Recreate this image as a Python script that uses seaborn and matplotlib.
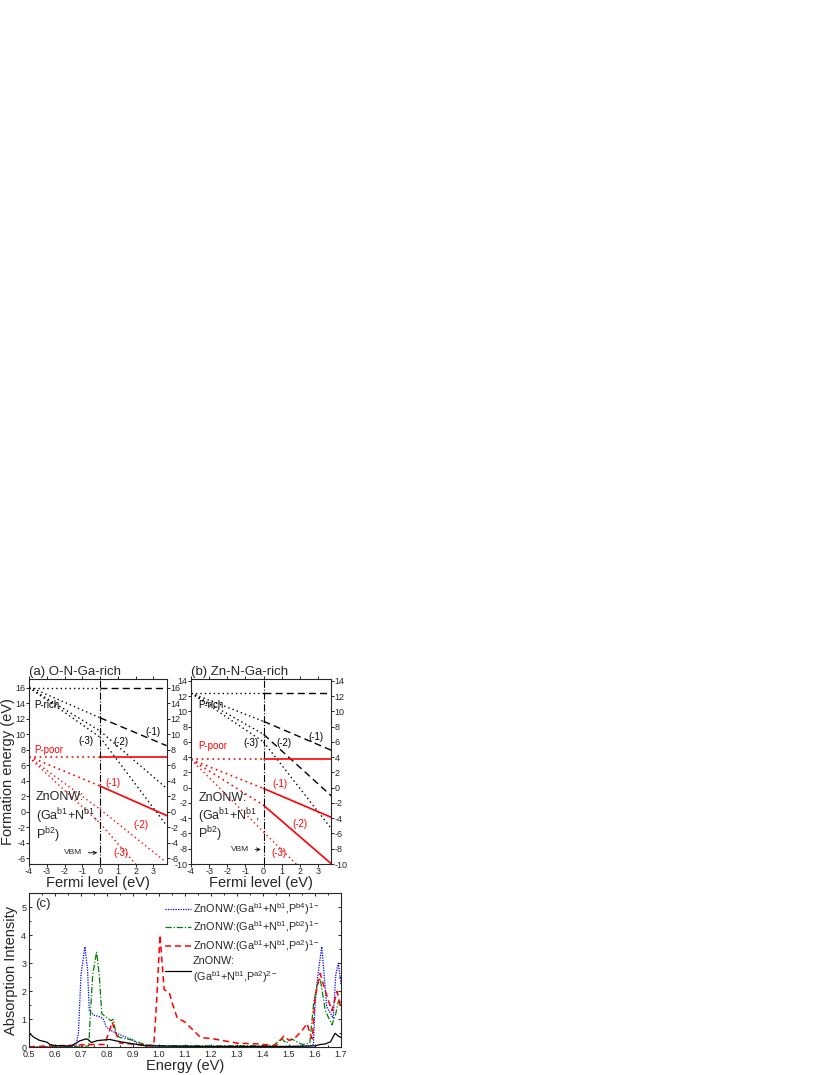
import numpy as np
import pandas as pd
import matplotlib
matplotlib.use("Agg")
import matplotlib.pyplot as plt
import seaborn as sns

sns.set_theme(style="ticks")
plt.rcParams["font.family"] = ["Liberation Sans", "DejaVu Sans"]
plt.rcParams["mathtext.default"] = "regular"
plt.rcParams["axes.unicode_minus"] = False

# ---------------- data: panels (a) and (b) -----------------
EF_NODES = [-4.0, 0.0, 3.75]

# panel (a) O-N-Ga-rich : values at EF_NODES
a_rich_0 = [15.9, 15.9, 15.9]
a_rich_m1 = [16.1, 12.1, 8.5]
a_rich_m2 = [16.0, 10.4, 3.0]
a_rich_m3 = [16.0, 9.6, -1.8]
a_poor_0 = [7.0, 7.0, 7.0]
a_poor_m1 = [7.1, 3.3, -0.5]
a_poor_m2_x = [-4.0, 0.0, 3.6]
a_poor_m2 = [7.0, 0.3, -6.3]
a_poor_m3_x = [-4.0, 0.0, 2.0]
a_poor_m3 = [7.0, -1.5, -6.75]

# panel (b) Zn-N-Ga-rich
b_rich_0 = [12.4, 12.4, 12.4]
b_rich_m1 = [12.4, 8.7, 4.9]
b_rich_m2 = [12.4, 7.0, -1.1]
b_rich_m3 = [12.4, 6.0, -5.4]
b_poor_0 = [3.7, 3.7, 3.7]
b_poor_m1 = [3.7, -0.1, -3.9]
b_poor_m2 = [3.7, -2.3, -10.0]
b_poor_m3_x = [-4.0, 0.0, 1.8]
b_poor_m3 = [3.7, -5.8, -10.0]

# ---------------- data: panel (c) -----------------
E_b4 = [0.5, 0.6, 0.68, 0.69, 0.70, 0.715, 0.725, 0.732, 0.75, 0.773, 0.786, 0.796,
        0.81, 0.85, 0.90, 0.92, 1.0, 1.2, 1.4, 1.5, 1.55, 1.58, 1.594, 1.60, 1.61,
        1.626, 1.635, 1.645, 1.66, 1.67, 1.68, 1.69, 1.7]
I_b4 = [0.02, 0.02, 0.03, 0.5, 2.6, 3.59, 2.8, 1.3, 1.15, 1.09, 1.0, 0.75,
        0.62, 0.45, 0.26, 0.1, 0.05, 0.03, 0.03, 0.03, 0.04, 0.05, 0.1, 1.5, 2.5,
        3.59, 2.6, 1.45, 1.2, 1.04, 2.6, 3.0, 2.25]

E_b2 = [0.5, 0.7, 0.73, 0.735, 0.745, 0.76, 0.77, 0.78, 0.80, 0.815, 0.825, 0.835,
        0.85, 0.9, 0.93, 0.95, 1.0, 1.2, 1.44, 1.47, 1.49, 1.51, 1.55, 1.58, 1.595,
        1.61, 1.62, 1.64, 1.665, 1.68, 1.69, 1.7]
I_b2 = [0.02, 0.02, 0.05, 1.0, 2.6, 3.41, 2.6, 1.2, 1.05, 0.95, 1.0, 0.45,
        0.35, 0.25, 0.15, 0.08, 0.06, 0.05, 0.06, 0.32, 0.15, 0.3, 0.1, 0.15, 1.6,
        2.3, 2.45, 1.3, 0.8, 1.2, 1.65, 1.6]

E_a2 = [0.5, 0.75, 0.79, 0.81, 0.82, 0.83, 0.85, 0.95, 0.98, 0.99, 1.004, 1.012,
        1.02, 1.04, 1.05, 1.07, 1.10, 1.16, 1.21, 1.30, 1.38, 1.45, 1.48, 1.50,
        1.52, 1.55, 1.57, 1.58, 1.59, 1.60, 1.62, 1.64, 1.665, 1.685, 1.7]
I_a2 = [0.02, 0.1, 0.1, 0.6, 0.9, 0.6, 0.15, 0.08, 0.05, 1.5, 4.01, 3.0,
        2.06, 1.95, 1.6, 1.05, 0.9, 0.35, 0.3, 0.15, 0.12, 0.06, 0.4, 0.25,
        0.3, 0.6, 0.85, 0.5, 0.3, 1.8, 2.64, 2.0, 1.3, 2.0, 1.35]

E_a2_2 = [0.5, 0.52, 0.54, 0.57, 0.58, 0.6, 0.65, 0.663, 0.695, 0.72, 0.727, 0.74,
          0.763, 0.81, 0.85, 0.91, 0.95, 1.2, 1.5, 1.6, 1.62, 1.64, 1.66, 1.677,
          1.69, 1.7]
I_a2_2 = [0.5, 0.35, 0.25, 0.18, 0.1, 0.06, 0.05, 0.05, 0.23, 0.3, 0.28, 0.17,
          0.24, 0.28, 0.2, 0.11, 0.05, 0.03, 0.03, 0.05, 0.1, 0.12, 0.2, 0.5,
          0.4, 0.35]

legend_labels = [
    "ZnONW:(Ga$^{b1}$+N$^{b1}$,P$^{b4}$)$^{1-}$",
    "ZnONW:(Ga$^{b1}$+N$^{b1}$,P$^{b2}$)$^{1-}$",
    "ZnONW:(Ga$^{b1}$+N$^{b1}$,P$^{a2}$)$^{1-}$",
    "ZnONW:\n(Ga$^{b1}$+N$^{b1}$,P$^{a2}$)$^{2-}$",
]

RED = "#ff0000"
BLK = "#000000"
DOT = (0, (1, 2.2))
DASH = (0, (5, 3))


def seg(ax, xs, ys, color, ls_left, ls_right, lw=1.0):
    """draw line from node data: left part (x<=0) and right part (x>=0)"""
    df = pd.DataFrame({"x": xs, "y": ys})
    left = df[df.x <= 0]
    right = df[df.x >= 0]
    sns.lineplot(data=left, x="x", y="y", ax=ax, color=color, linestyle=ls_left,
                 lw=lw, sort=False, estimator=None)
    if ls_right is not None and len(right) > 1:
        sns.lineplot(data=right, x="x", y="y", ax=ax, color=color,
                     linestyle=ls_right, lw=lw, sort=False, estimator=None)


fig = plt.figure(figsize=(8.3, 10.75), dpi=100)
W, H = 830.0, 1075.0
ax_a = fig.add_axes([29 / W, 1 - 864 / H, 138 / W, 185 / H])
ax_b = fig.add_axes([191 / W, 1 - 864 / H, 140 / W, 185 / H])
ax_c = fig.add_axes([29 / W, 1 - 1047.3 / H, 312 / W, 154 / H])

TICK_FS = 6.5
LAB_FS = 10.5
ANN_FS = 7

# ---- panel (a)
ax = ax_a
seg(ax, EF_NODES, a_rich_0, BLK, DOT, DASH)
seg(ax, EF_NODES, a_rich_m1, BLK, DOT, DASH)
seg(ax, EF_NODES, a_rich_m2, BLK, DOT, DOT)
seg(ax, EF_NODES, a_rich_m3, BLK, DOT, DOT)
seg(ax, EF_NODES, a_poor_0, RED, DOT, "-", lw=1.2)
seg(ax, EF_NODES, a_poor_m1, RED, DOT, "-", lw=1.2)
seg(ax, a_poor_m2_x, a_poor_m2, RED, DOT, DOT)
seg(ax, a_poor_m3_x, a_poor_m3, RED, DOT, DOT)
ax.set_xlim(-4, 3.77)
ax.set_ylim(-6.75, 17.1)
ax.set_yticks(np.arange(-6, 17, 2))
ax.text(-3.7, 13.8, "P-rich", fontsize=ANN_FS, color=BLK, va="center")
ax.text(-3.7, 7.9, "P-poor", fontsize=ANN_FS, color=RED, va="center")
ax.text(3.0, 10.3, "(-1)", fontsize=ANN_FS, color=BLK, ha="center", va="center")
ax.text(-0.8, 9.1, "(-3)", fontsize=ANN_FS, color=BLK, ha="center", va="center")
ax.text(1.2, 9.0, "(-2)", fontsize=ANN_FS, color=BLK, ha="center", va="center")
ax.text(0.75, 3.75, "(-1)", fontsize=ANN_FS, color=RED, ha="center", va="center")
ax.text(2.3, -1.7, "(-2)", fontsize=ANN_FS, color=RED, ha="center", va="center")
ax.text(1.2, -5.3, "(-3)", fontsize=ANN_FS, color=RED, ha="center", va="center")
ax.text(-3.6, 1.9, "ZnONW:", fontsize=9, va="center")
ax.text(-3.6, -0.6, "(Ga$^{b1}$+N$^{b1}$,", fontsize=9, va="center")
ax.text(-3.6, -3.0, "P$^{b2}$)", fontsize=9, va="center")
ax.annotate("VBM", xy=(0, -5.3), xytext=(-1.0, -5.3), fontsize=6, ha="right",
            va="center", arrowprops=dict(arrowstyle="->", lw=0.6, color=BLK))
ax.set_title("(a) O-N-Ga-rich", loc="left", fontsize=9.5, pad=3)
ax.set_ylabel("Formation energy (eV)", fontsize=LAB_FS, labelpad=0)

# ---- panel (b)
ax = ax_b
seg(ax, EF_NODES, b_rich_0, BLK, DOT, DASH)
seg(ax, EF_NODES, b_rich_m1, BLK, DOT, DASH)
seg(ax, EF_NODES, b_rich_m2, BLK, DOT, DASH)
seg(ax, EF_NODES, b_rich_m3, BLK, DOT, DOT)
seg(ax, EF_NODES, b_poor_0, RED, DOT, "-", lw=1.2)
seg(ax, EF_NODES, b_poor_m1, RED, DOT, "-", lw=1.2)
seg(ax, EF_NODES, b_poor_m2, RED, DOT, "-", lw=1.2)
seg(ax, b_poor_m3_x, b_poor_m3, RED, DOT, DOT)
ax.set_xlim(-4, 3.72)
ax.set_ylim(-10, 14.25)
ax.set_yticks(np.arange(-10, 15, 2))
ax.text(-3.6, 10.8, "P-rich", fontsize=ANN_FS, color=BLK, va="center")
ax.text(-3.6, 5.5, "P-poor", fontsize=ANN_FS, color=RED, va="center")
ax.text(2.9, 6.6, "(-1)", fontsize=ANN_FS, color=BLK, ha="center", va="center")
ax.text(-0.7, 5.8, "(-3)", fontsize=ANN_FS, color=BLK, ha="center", va="center")
ax.text(1.1, 5.8, "(-2)", fontsize=ANN_FS, color=BLK, ha="center", va="center")
ax.text(0.9, 0.5, "(-1)", fontsize=ANN_FS, color=RED, ha="center", va="center")
ax.text(2.0, -4.8, "(-2)", fontsize=ANN_FS, color=RED, ha="center", va="center")
ax.text(0.85, -8.5, "(-3)", fontsize=ANN_FS, color=RED, ha="center", va="center")
ax.text(-3.6, -1.4, "ZnONW:", fontsize=9, va="center")
ax.text(-3.6, -3.7, "(Ga$^{b1}$+N$^{b1}$,", fontsize=9, va="center")
ax.text(-3.6, -6.1, "P$^{b2}$)", fontsize=9, va="center")
ax.annotate("VBM", xy=(0, -8.1), xytext=(-0.8, -8.1), fontsize=6, ha="right",
            va="center", arrowprops=dict(arrowstyle="->", lw=0.6, color=BLK))
ax.set_title("(b) Zn-N-Ga-rich", loc="left", fontsize=9.5, pad=3)

for ax in (ax_a, ax_b):
    ax.axvline(0, color=BLK, lw=0.8, linestyle="-.")
    ax.set_xticks(np.arange(-4, 4, 1))
    ax.set_xlabel("Fermi level (eV)", fontsize=LAB_FS, labelpad=0)
    ax.tick_params(axis="both", which="both", direction="out", labelsize=TICK_FS,
                   length=2.0, width=0.7, pad=0.5, right=True, labelright=True,
                   top=True)
    for s in ax.spines.values():
        s.set_linewidth(0.8)
ax_b.set_ylabel("")

# ---- panel (c)
ax = ax_c
sns.lineplot(x=E_b4, y=I_b4, ax=ax, color="#0000ff", linestyle=(0, (1, 1)),
             lw=0.9, sort=False, estimator=None, label=legend_labels[0])
sns.lineplot(x=E_b2, y=I_b2, ax=ax, color="#008000", linestyle=(0, (5, 1.5, 1, 1.5)),
             lw=0.9, sort=False, estimator=None, label=legend_labels[1])
sns.lineplot(x=E_a2, y=I_a2, ax=ax, color=RED, linestyle=(0, (4, 2.5)),
             lw=1.1, sort=False, estimator=None, label=legend_labels[2])
sns.lineplot(x=E_a2_2, y=I_a2_2, ax=ax, color=BLK, linestyle="-",
             lw=0.9, sort=False, estimator=None, label=legend_labels[3])
ax.set_xlim(0.5, 1.7)
ax.set_ylim(0, 5.5)
ax.set_xticks(np.arange(0.5, 1.71, 0.1))
ax.set_xticklabels([f"{v:.1f}" for v in np.arange(0.5, 1.71, 0.1)])
ax.set_yticks(np.arange(0, 6, 1))
ax.set_yticks(np.arange(0.5, 5.5, 1), minor=True)
ax.set_xticks(np.arange(0.55, 1.7, 0.1), minor=True)
ax.tick_params(axis="both", which="both", direction="in", labelsize=TICK_FS,
               length=2.5, width=0.7, pad=2, right=True, top=True)
ax.tick_params(which="minor", length=1.5)
for s in ax.spines.values():
    s.set_linewidth(0.8)
ax.set_xlabel("Energy (eV)", fontsize=LAB_FS, labelpad=0)
ax.set_ylabel("Absorption Intensity", fontsize=LAB_FS, labelpad=2)
ax.text(0.02, 0.93, "(c)", transform=ax.transAxes, fontsize=9.5, va="center")
leg = ax.legend(loc="upper left", bbox_to_anchor=(0.41, 1.0), frameon=False,
                fontsize=7.8, handlelength=2.4, handletextpad=0.2,
                labelspacing=0.25, borderaxespad=0.3)

fig.savefig("out.png", dpi=100)
